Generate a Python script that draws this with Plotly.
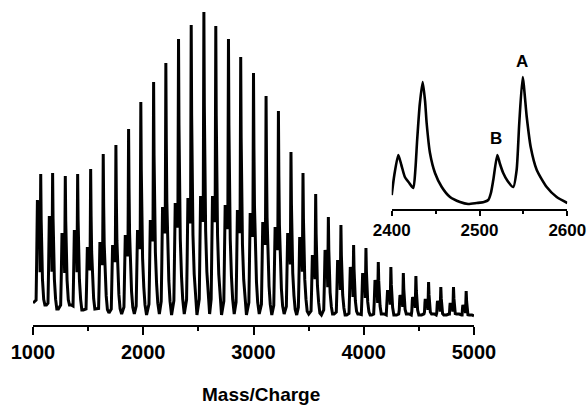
import plotly.graph_objects as go

# ---------------- data ----------------
# main spectrum: series A peak positions (m/z) and intensities (a.u.)
a_mass = [1070, 1178, 1293, 1405, 1523, 1637, 1752, 1867, 1978, 2094,
          2205, 2320, 2435, 2550, 2658, 2773, 2884, 3000, 3114, 3226,
          3340, 3449, 3564, 3679, 3793, 3908, 4020, 4132, 4246, 4359,
          4473, 4588, 4699, 4814, 4929]
a_int = [151, 152, 149, 151, 156, 171, 180, 196, 223, 243,
         262, 286, 300, 313, 299, 286, 268, 252, 229, 214,
         173, 152, 131, 108, 100, 80, 77, 63, 58, 52,
         49, 43, 38, 38, 34]
# series B (about 30 below each A peak)
b_offset = 30
b_int = [125, 109, 92, 95, 78, 83, 80, 90, 95, 105,
         118, 122, 127, 129, 129, 120, 115, 112, 103, 98,
         92, 88, 70, 75, 65, 58, 52, 45, 35, 30,
         28, 26, 24, 22, 20]
# troughs between peak groups (one after each A peak)
trough_gap = 52
trough_int = [20, 16, 20, 15, 16, 12, 11, 11, 10, 11,
              10, 11, 10, 11, 10, 11, 10, 11, 10, 11,
              10, 11, 10, 11, 10, 11, 10, 11, 10, 11,
              10, 11, 10, 11, 10]
start_mass, start_int = 1000, 22
end_mass, end_int = 5000, 9

# peak profiles as they appear in the main trace (offset from apex, fraction of apex)
a_shape_offset = [-6, -3, 0, 4, 9, 16, 27, 38]
a_shape_rel = [0.35, 0.65, 1.0, 0.70, 0.47, 0.30, 0.17, 0.09]
b_shape_offset = [-12, -7, -3, 0, 6, 12, 20]
b_shape_rel = [0.20, 0.50, 0.85, 1.0, 0.92, 0.85, 0.80]

# inset: traced profile 2400-2600
inset_mass = [2400, 2403, 2407.5, 2411, 2415, 2420, 2424.6, 2427, 2429, 2432,
              2435.3, 2438, 2439.8, 2443.6, 2449.3, 2457, 2466.4, 2477.8,
              2487, 2496.8, 2505, 2510, 2513, 2515.7, 2520.3, 2523, 2527,
              2532, 2538.5, 2542.3, 2545.3, 2549.2, 2553.8, 2558.3, 2565.2,
              2576.5, 2587.9, 2600]
inset_int = [14, 34, 54, 44, 32, 26, 21, 40, 69, 105,
             127, 108, 86, 56, 36, 22, 12, 7,
             5, 6, 7, 9, 16, 29, 54, 46, 36,
             28, 22, 39, 86, 132, 92, 62, 39,
             22, 12, 6]
label_text = ["A", "B"]
label_mass = [2548, 2519]
label_int = [148, 71]

main_ticks = [1000, 2000, 3000, 4000, 5000]
inset_ticks = [2400, 2500, 2600]

# ---------------- build main polyline from the peak table ----------------
mx, my = [start_mass], [start_int]
for m, ha, hb, tr in zip(a_mass, a_int, b_int, trough_int):
    bm = m - b_offset
    for off, rel in zip(b_shape_offset, b_shape_rel):
        mx.append(bm + off)
        my.append(max(tr, rel * hb))
    for off, rel in zip(a_shape_offset, a_shape_rel):
        mx.append(m + off)
        my.append(max(tr, rel * ha))
    mx.append(m + trough_gap)
    my.append(tr)
mx.append(end_mass)
my.append(end_int)

W, H = 587, 405
def fx(px):
    return px / W
def fy(py):
    return (H - py) / H

fig = go.Figure()
fig.add_trace(go.Scatter(x=mx, y=my, mode="lines",
                         line=dict(color="black", width=3),
                         xaxis="x", yaxis="y", showlegend=False,
                         hoverinfo="skip"))
fig.add_trace(go.Scatter(x=inset_mass, y=inset_int, mode="lines",
                         line=dict(color="black", width=2.6, shape="spline", smoothing=0.6),
                         xaxis="x2", yaxis="y2", showlegend=False,
                         hoverinfo="skip"))

bold = dict(family="Liberation Sans, Arial, sans-serif", color="black", weight="bold")

fig.update_layout(
    width=W, height=H,
    margin=dict(l=0, r=0, t=0, b=0, autoexpand=False),
    paper_bgcolor="white", plot_bgcolor="rgba(0,0,0,0)",
    xaxis=dict(domain=[fx(33), fx(474)], range=[1000, 5000], automargin=False,
               anchor="y", showline=True, linecolor="black", linewidth=1.5,
               ticks="outside", ticklen=8, tickwidth=1.5, tickcolor="black",
               tickvals=main_ticks, ticktext=[str(t) for t in main_ticks],
               tickfont=dict(size=20, **bold),
               minor=dict(dtick=500, tick0=1000, ticks="outside", ticklen=4,
                          tickwidth=1.5, tickcolor="black", showgrid=False),
               showgrid=False, zeroline=False),
    yaxis=dict(domain=[fy(325), fy(10)], range=[0, 315], anchor="x",
               visible=False, automargin=False),
    xaxis2=dict(domain=[fx(391.7), fx(567.3)], range=[2400, 2600], automargin=False,
                anchor="y2", showline=True, linecolor="black", linewidth=1.5,
                ticks="outside", ticklen=5, tickwidth=1.5, tickcolor="black",
                tickvals=inset_ticks, ticktext=[str(t) for t in inset_ticks],
                tickfont=dict(size=17, **bold),
                minor=dict(dtick=50, tick0=2400, ticks="outside", ticklen=3,
                           tickwidth=1.5, tickcolor="black", showgrid=False),
                showgrid=False, zeroline=False),
    yaxis2=dict(domain=[fy(209), fy(49)], range=[0, 160], anchor="x2",
                visible=False, automargin=False),
)

for t, m, h in zip(label_text, label_mass, label_int):
    fig.add_annotation(x=m, y=h, xref="x2", yref="y2", text=t, showarrow=False,
                       font=dict(size=17, **bold), xanchor="center", yanchor="middle")

fig.add_annotation(x=fx(261), y=fy(394), xref="paper", yref="paper",
                   text="Mass/Charge", showarrow=False,
                   font=dict(size=19, **bold), xanchor="center", yanchor="middle")

fig.write_html("out.html", config={"displayModeBar": False},
               post_script="document.body.style.margin='0';document.body.style.padding='0';")
